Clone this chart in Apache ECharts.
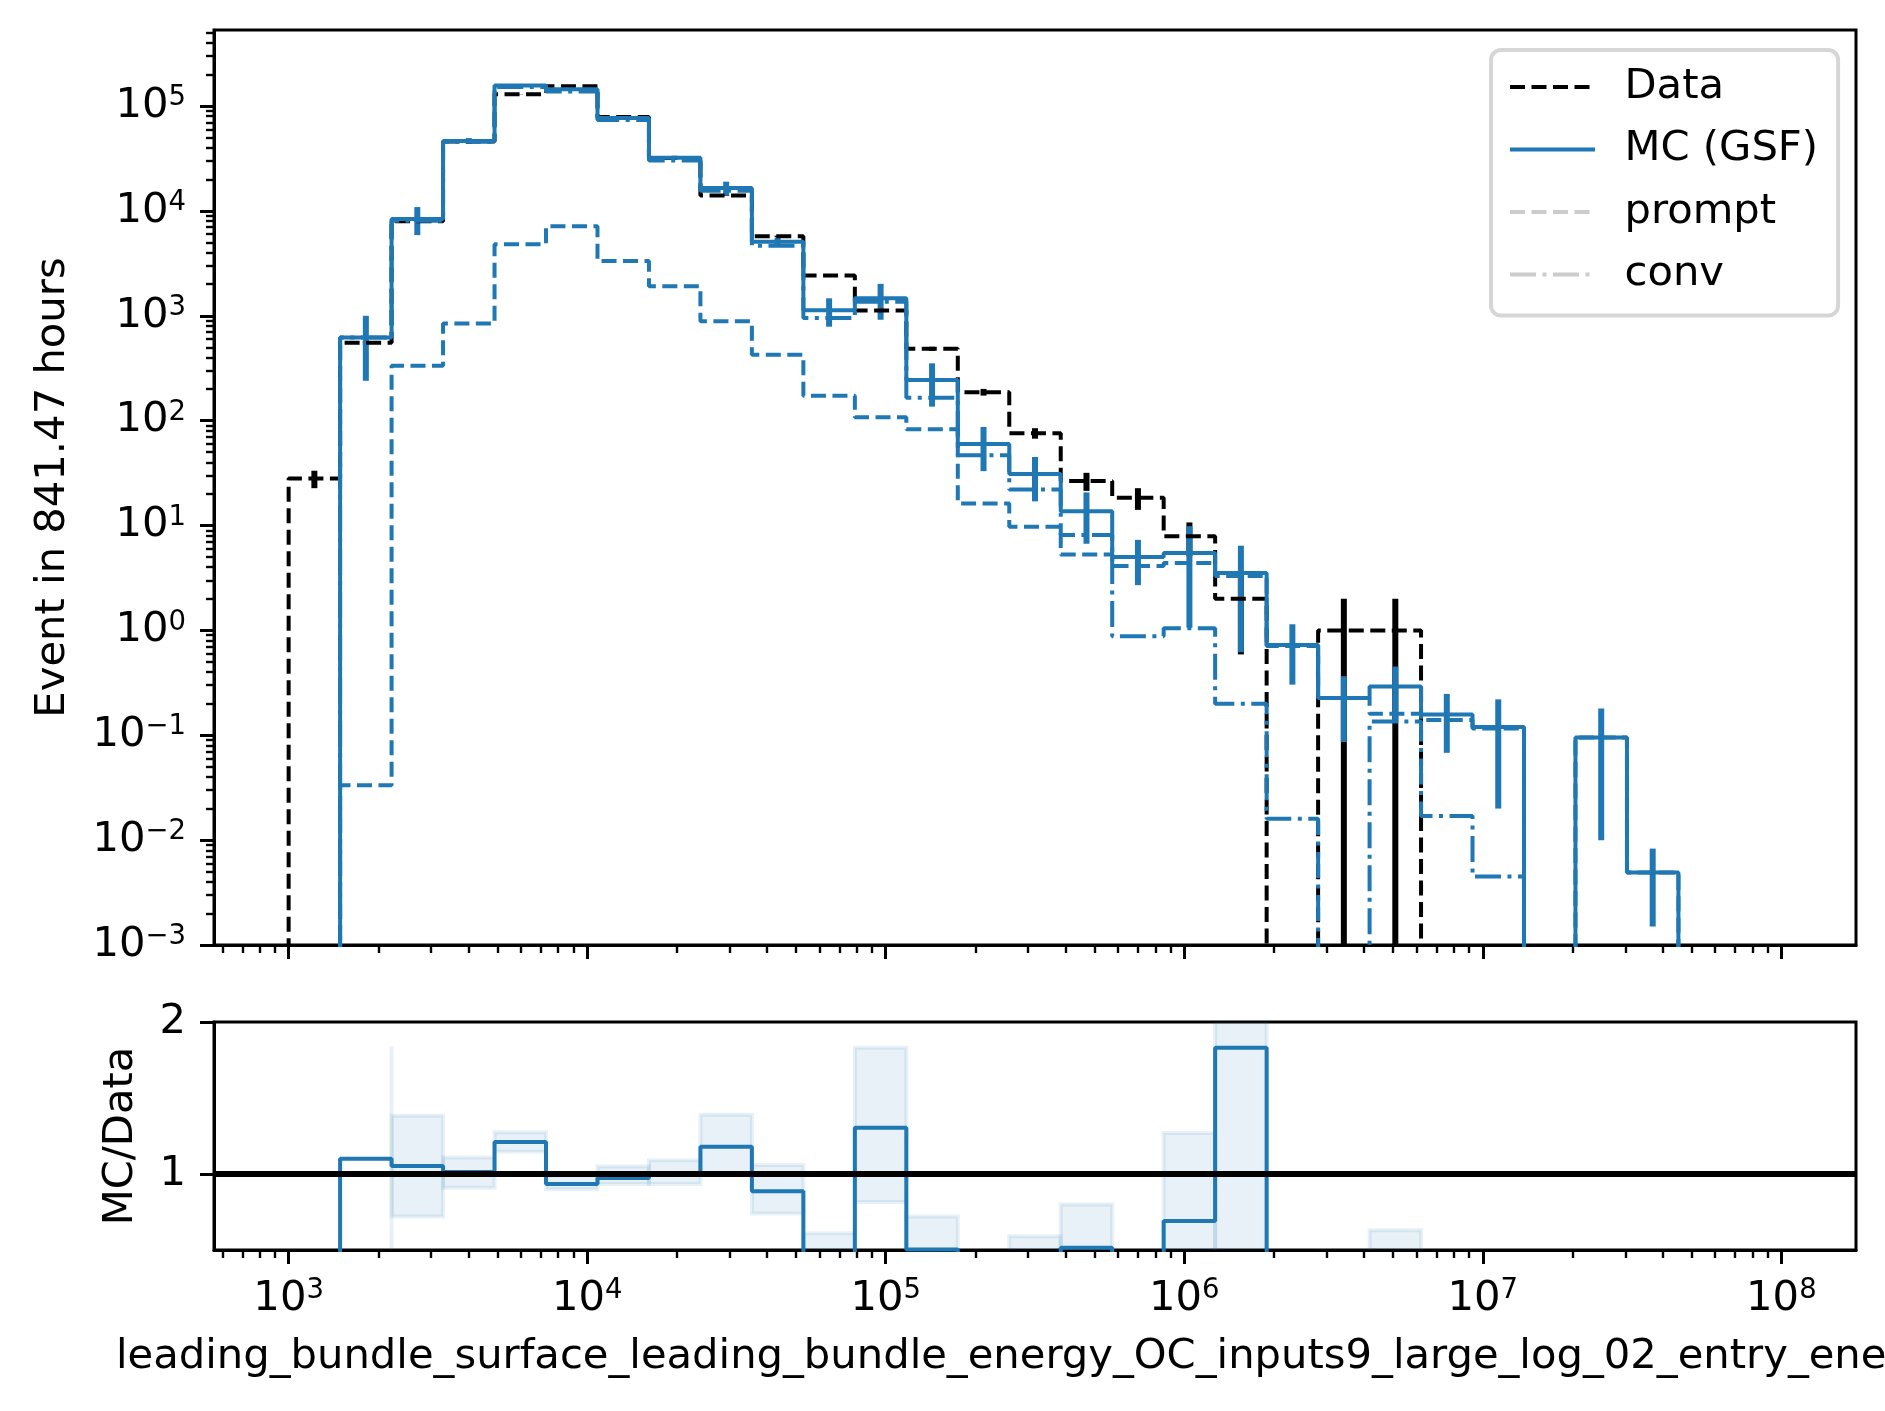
<!DOCTYPE html>
<html>
<head>
<meta charset="utf-8">
<script src="https://cdn.jsdelivr.net/npm/echarts@6/dist/echarts.min.js"></script>
<style>
html,body{margin:0;padding:0;background:#ffffff;}
#chart{width:1885px;height:1411px;}
</style>
</head>
<body>
<div id="chart"></div>
<script>
// ---------------- data ----------------
// bin edges, as log10(energy)
const binEdgesLog10 = [3.0000, 3.1724, 3.3448, 3.5172, 3.6897, 3.8621, 4.0345, 4.2069, 4.3793, 4.5517,
  4.7241, 4.8966, 5.0690, 5.2414, 5.4138, 5.5862, 5.7586, 5.9310, 6.1034, 6.2759,
  6.4483, 6.6207, 6.7931, 6.9655, 7.1379, 7.3103, 7.4828, 7.6552, 7.8276, 8.0000];

const dataCounts = [28, 552, 7960, 45900, 129500, 154700, 78800, 32000, 14000, 5720,
  2420, 1123, 484, 187, 76, 26.6, 18.4, 7.9, 2, 0,
  1, 1, 0, 0, 0, 0, 0, 0, 0];
const dataErr = [5.3, 23.5, 89, 214, 360, 393, 281, 179, 118, 76,
  49, 33.5, 22, 13.7, 8.7, 5.2, 4.3, 2.8, 1.41, 0,
  1, 1, 0, 0, 0, 0, 0, 0, 0];

const mcTotal = [0, 620, 8380, 46500, 156700, 144500, 76800, 32100, 16500, 5070,
  1127, 1466, 244, 60, 31, 13.7, 5.0, 5.46, 3.52, 0.724,
  0.226, 0.292, 0.158, 0.12, 0, 0.095, 0.0049, 0, 0];
const mcErr = [0, 380, 2500, 3000, 5000, 4000, 2500, 1500, 2500, 500,
  340, 550, 108, 27, 14, 7, 2.3, 4.4, 2.9, 0.42,
  0.14, 0.16, 0.09, 0.1, 0, 0.085, 0.0034, 0, 0];
const mcPrompt = [0, 0.0334, 334, 842, 4810, 7150, 3320, 1910, 887, 424,
  173, 108, 82.6, 16.2, 9.75, 5.3, 4.1, 4.4, 3.3, 0.71,
  0.226, 0.16, 0.14, 0.116, 0, 0.095, 0.0049, 0, 0];
const mcConv = [0, 620, 8046, 45660, 151900, 137350, 73480, 30190, 15600, 4650,
  954, 1358, 165, 46.9, 22, 8.1, 0.88, 1.05, 0.2, 0.016,
  0, 0.135, 0.017, 0.0045, 0, 0, 0, 0, 0];

const ratio = [0, 1.10, 1.053, 1.013, 1.21, 0.934, 0.974, 1.005, 1.18, 0.887,
  0.466, 1.305, 0.504, 0.32, 0.41, 0.515, 0.28, 0.69, 1.83, 0,
  0.226, 0.292, 0, 0, 0, 0, 0, 0, 0];
const ratioBandLo = [null, null, 0.721, 0.91, 1.147, 0.90, 0.934, 0.934, 1.0, 0.74,
  0.32, 0.815, 0.29, 0.17, 0.22, 0.24, 0.14, 0.10, -0.1, null,
  -0.04, -0.05, null, null, null, null, null, null, null];
const ratioBandHi = [null, 1.84, 1.384, 1.108, 1.274, 0.99, 1.05, 1.09, 1.39, 1.06,
  0.61, 1.83, 0.72, 0.47, 0.59, 0.80, 0.42, 1.27, 3.8, null,
  0.49, 0.63, null, null, null, null, null, null, null];

const xMajorExp = [3, 4, 5, 6, 7, 8];
const yMajorExp = [-3, -2, -1, 0, 1, 2, 3, 4, 5];
const ratioTicks = [1, 2];

const legendNames = ['Data', 'MC (GSF)', 'prompt', 'conv'];
const yTitle = 'Event in 841.47 hours';
const ratioTitle = 'MC/Data';
const xTitle = 'leading_bundle_surface_leading_bundle_energy_OC_inputs9_large_log_02_entry_energy';

// ---------------- helpers ----------------
const FONT = 'DejaVu Sans';
const FS = 41.7;
const C0 = '#1f77b4';
const FLOOR = -8;
const lg = v => (v > 0 ? Math.log10(v) : FLOOR);

function minorTicks(lo, hi) {
  const out = [];
  for (let n = Math.floor(lo) - 1; n <= Math.ceil(hi); n++) {
    for (let k = 2; k <= 9; k++) {
      const t = n + Math.log10(k);
      if (t >= lo && t <= hi) out.push(t);
    }
  }
  return out;
}

function stepPoints(vals) {
  const n = vals.length;
  const pts = [[binEdgesLog10[0], FLOOR]];
  for (let i = 0; i < n; i++) pts.push([binEdgesLog10[i], lg(vals[i])]);
  pts.push([binEdgesLog10[n], lg(vals[n - 1])]);
  pts.push([binEdgesLog10[n], FLOOR]);
  return pts;
}
function ratioPoints(vals) {
  const n = vals.length;
  const pts = [];
  for (let i = 0; i < n; i++) pts.push([binEdgesLog10[i], vals[i]]);
  pts.push([binEdgesLog10[n], vals[n - 1]]);
  return pts;
}
function errItems(vals, errs) {
  const out = [];
  for (let i = 0; i < vals.length; i++) {
    if (vals[i] > 0 && errs[i] > 0) {
      out.push([(binEdgesLog10[i] + binEdgesLog10[i + 1]) / 2, lg(vals[i] - errs[i]), lg(vals[i] + errs[i])]);
    }
  }
  return out;
}
function errRender(color) {
  return function (params, api) {
    const p1 = api.coord([api.value(0), api.value(1)]);
    const p2 = api.coord([api.value(0), api.value(2)]);
    return { type: 'line', shape: { x1: p1[0], y1: p1[1], x2: p2[0], y2: p2[1] },
      style: { stroke: color, lineWidth: 6 } };
  };
}
function expLabel(v) {
  const e = Math.round(v);
  const s = e < 0 ? '\u2212' + (-e) : String(e);
  return '{b|10}{s|' + s + '}';
}
const richExp = {
  b: { fontSize: FS, fontFamily: FONT, color: '#000', lineHeight: 44 },
  s: { fontSize: 27.5, fontFamily: FONT, color: '#000', lineHeight: 27, verticalAlign: 'top' }
};

const XMIN = 2.75, XMAX = 8.25, YMIN = -3, YMAX = 5.725;
const axisLineStyle = { show: true, onZero: false, lineStyle: { color: '#000', width: 3 } };
const noLine = { show: false, onZero: false };

const bandIdx = [];
for (let i = 0; i < ratioBandHi.length; i++) if (ratioBandHi[i] !== null) bandIdx.push([i]);

// ---------------- chart ----------------
const chart = echarts.init(document.getElementById('chart'), null, { renderer: 'canvas' });
const gridCommon = { show: true, borderColor: '#000', borderWidth: 3, backgroundColor: 'transparent',
  containLabel: false, outerBoundsMode: 'none' };
const titleStyle = { fontSize: FS, fontFamily: FONT, color: '#000' };
const option = {
  animation: false,
  backgroundColor: '#ffffff',
  textStyle: { fontFamily: FONT },
  grid: [
    Object.assign({ left: 214, width: 1642, top: 30, height: 915 }, gridCommon),
    Object.assign({ left: 214, width: 1642, top: 1022, height: 228 }, gridCommon)
  ],
  xAxis: [
    { type: 'value', gridIndex: 0, position: 'bottom', min: XMIN, max: XMAX, axisLine: axisLineStyle,
      axisTick: { show: true, customValues: xMajorExp, length: 14, lineStyle: { color: '#000', width: 3 } },
      axisLabel: { show: false }, splitLine: { show: false } },
    { type: 'value', gridIndex: 0, position: 'bottom', min: XMIN, max: XMAX, axisLine: noLine,
      axisTick: { show: true, customValues: minorTicks(XMIN, XMAX), length: 8, lineStyle: { color: '#000', width: 2.4 } },
      axisLabel: { show: false }, splitLine: { show: false } },
    { type: 'value', gridIndex: 1, position: 'bottom', min: XMIN, max: XMAX, axisLine: axisLineStyle,
      axisTick: { show: true, customValues: xMajorExp, length: 14, lineStyle: { color: '#000', width: 3 } },
      axisLabel: { show: true, customValues: xMajorExp, margin: 27, formatter: expLabel, rich: richExp },
      splitLine: { show: false },
      name: xTitle, nameLocation: 'middle', nameGap: 86, nameTextStyle: titleStyle },
    { type: 'value', gridIndex: 1, position: 'bottom', min: XMIN, max: XMAX, axisLine: noLine,
      axisTick: { show: true, customValues: minorTicks(XMIN, XMAX), length: 8, lineStyle: { color: '#000', width: 2.4 } },
      axisLabel: { show: false }, splitLine: { show: false } }
  ],
  yAxis: [
    { type: 'value', gridIndex: 0, position: 'left', min: YMIN, max: YMAX, axisLine: axisLineStyle,
      axisTick: { show: true, customValues: yMajorExp, length: 14, lineStyle: { color: '#000', width: 3 } },
      axisLabel: { show: true, customValues: yMajorExp, margin: 28, formatter: expLabel, rich: richExp },
      splitLine: { show: false },
      name: yTitle, nameLocation: 'middle', nameGap: 140, nameRotate: 90, nameTextStyle: titleStyle },
    { type: 'value', gridIndex: 0, position: 'left', min: YMIN, max: YMAX, axisLine: noLine,
      axisTick: { show: true, customValues: minorTicks(YMIN, YMAX), length: 8, lineStyle: { color: '#000', width: 2.4 } },
      axisLabel: { show: false }, splitLine: { show: false } },
    { type: 'value', gridIndex: 1, position: 'left', min: 0.5, max: 2, axisLine: axisLineStyle,
      axisTick: { show: true, customValues: ratioTicks, length: 14, lineStyle: { color: '#000', width: 3 } },
      axisLabel: { show: true, customValues: ratioTicks, margin: 28, fontSize: FS, fontFamily: FONT, color: '#000' },
      splitLine: { show: false },
      name: ratioTitle, nameLocation: 'middle', nameGap: 72, nameRotate: 90, nameTextStyle: titleStyle }
  ],
  legend: {
    show: true, orient: 'vertical', left: 1491, top: 50,
    padding: [13, 20, 17, 17],
    itemWidth: 85, itemHeight: 48, itemGap: 14.5,
    backgroundColor: 'rgba(255,255,255,0.8)',
    borderColor: 'rgba(204,204,204,0.8)', borderWidth: 4, borderRadius: 10,
    selectedMode: false,
    itemStyle: { opacity: 0 },
    lineStyle: { width: 4 },
    textStyle: { fontSize: FS, fontFamily: FONT, color: '#000', lineHeight: 48, padding: [0, 0, 0, 24.5] },
    data: [
      { name: legendNames[0], lineStyle: { color: '#000', type: [15, 6.5], width: 4 } },
      { name: legendNames[1], lineStyle: { color: C0, type: 'solid', width: 4 } },
      { name: legendNames[2], lineStyle: { color: '#cccccc', type: [15, 6.5], width: 4 } },
      { name: legendNames[3], lineStyle: { color: '#cccccc', type: [26, 6.5, 4, 6.5], width: 4 } }
    ]
  },
  series: [
    { name: legendNames[0], type: 'line', xAxisIndex: 0, yAxisIndex: 0, step: 'end', symbol: 'none',
      data: stepPoints(dataCounts), clip: true, silent: true,
      lineStyle: { color: '#000', width: 4, type: [15, 6.5] }, itemStyle: { color: '#000' } },
    { name: 'dataErr', type: 'custom', xAxisIndex: 0, yAxisIndex: 0, clip: true, silent: true,
      data: errItems(dataCounts, dataErr), renderItem: errRender('#000') },
    { name: legendNames[1], type: 'line', xAxisIndex: 0, yAxisIndex: 0, step: 'end', symbol: 'none',
      data: stepPoints(mcTotal), clip: true, silent: true,
      lineStyle: { color: C0, width: 4, type: 'solid' }, itemStyle: { color: C0 } },
    { name: legendNames[2], type: 'line', xAxisIndex: 0, yAxisIndex: 0, step: 'end', symbol: 'none',
      data: stepPoints(mcPrompt), clip: true, silent: true,
      lineStyle: { color: C0, width: 4, type: [15, 6.5] }, itemStyle: { color: C0 } },
    { name: legendNames[3], type: 'line', xAxisIndex: 0, yAxisIndex: 0, step: 'end', symbol: 'none',
      data: stepPoints(mcConv), clip: true, silent: true,
      lineStyle: { color: C0, width: 4, type: [26, 6.5, 4, 6.5] }, itemStyle: { color: C0 } },
    { name: 'mcErr', type: 'custom', xAxisIndex: 0, yAxisIndex: 0, clip: true, silent: true,
      data: errItems(mcTotal, mcErr), renderItem: errRender(C0) },
    // ratio panel
    { name: 'band', type: 'custom', xAxisIndex: 2, yAxisIndex: 2, clip: true, silent: true,
      data: bandIdx,
      renderItem: function (params, api) {
        const i = api.value(0);
        const x0 = binEdgesLog10[i], x1 = binEdgesLog10[i + 1];
        const hi = ratioBandHi[i], lo = ratioBandLo[i];
        const st = { fill: 'rgba(31,119,180,0.1)', stroke: 'rgba(31,119,180,0.1)', lineWidth: 4 };
        if (lo === null) {
          const a = api.coord([x1, 0.3]);
          const b = api.coord([x1, hi]);
          return { type: 'line', shape: { x1: a[0], y1: a[1], x2: b[0], y2: b[1] }, style: { stroke: st.stroke, lineWidth: 4 } };
        }
        const a = api.coord([x0, hi]);
        const b = api.coord([x1, lo]);
        return { type: 'rect', shape: { x: a[0], y: a[1], width: b[0] - a[0], height: b[1] - a[1] }, style: st };
      } },
    { name: 'ratio', type: 'line', xAxisIndex: 2, yAxisIndex: 2, step: 'end', symbol: 'none',
      data: ratioPoints(ratio), clip: true, silent: true,
      lineStyle: { color: C0, width: 4 }, itemStyle: { color: C0 },
      markLine: { silent: true, symbol: 'none', label: { show: false },
        lineStyle: { color: '#000', width: 6, type: 'solid' },
        data: [{ yAxis: 1 }] } }
  ]
};
chart.setOption(option);
</script>
</body>
</html>
